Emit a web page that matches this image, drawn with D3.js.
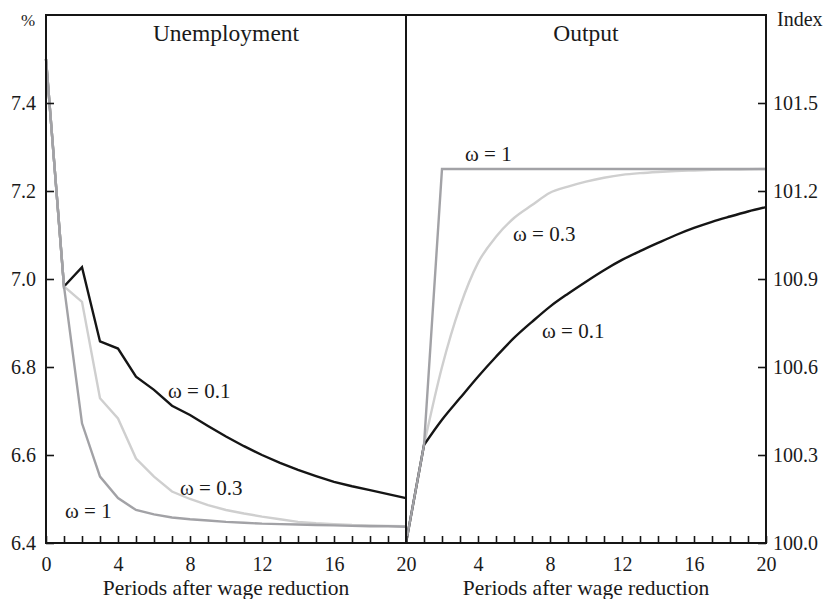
<!DOCTYPE html>
<html>
<head>
<meta charset="utf-8">
<script src="https://cdn.jsdelivr.net/npm/d3@7"></script>
<style>
  body { margin: 0; background: #fff; }
  svg text { font-family: "Liberation Serif", "Times New Roman", serif; fill: #1a1a1a; }
</style>
</head>
<body>
<div id="chart"></div>
<script>
// Periods after wage reduction
const periods = d3.range(0, 21);

// Unemployment, %
const unempW01 = [7.5, 6.983, 7.027, 6.858, 6.842, 6.778, 6.748, 6.712, 6.691, 6.666, 6.642, 6.620, 6.600, 6.582, 6.566, 6.552, 6.539, 6.529, 6.520, 6.511, 6.502];
const unempW03 = [7.5, 6.983, 6.948, 6.729, 6.683, 6.592, 6.551, 6.517, 6.500, 6.486, 6.475, 6.467, 6.460, 6.454, 6.448, 6.445, 6.443, 6.441, 6.440, 6.439, 6.438];
const unempW1  = [7.5, 6.983, 6.672, 6.551, 6.502, 6.475, 6.465, 6.458, 6.454, 6.451, 6.448, 6.446, 6.444, 6.443, 6.442, 6.441, 6.440, 6.439, 6.438, 6.438, 6.437];

// Output, index
const outW01 = [100, 100.334, 100.420, 100.494, 100.567, 100.635, 100.699, 100.754, 100.806, 100.850, 100.891, 100.930, 100.965, 100.995, 101.023, 101.050, 101.074, 101.095, 101.113, 101.130, 101.145];
const outW03 = [100, 100.334, 100.600, 100.806, 100.955, 101.044, 101.108, 101.152, 101.194, 101.215, 101.232, 101.245, 101.255, 101.261, 101.265, 101.268, 101.270, 101.272, 101.273, 101.274, 101.275];
const outW1  = [100, 100.334, 101.275, 101.275, 101.275, 101.275, 101.275, 101.275, 101.275, 101.275, 101.275, 101.275, 101.275, 101.275, 101.275, 101.275, 101.275, 101.275, 101.275, 101.275, 101.275];

const unempTicks = [6.4, 6.6, 6.8, 7.0, 7.2, 7.4];
const outTicks = [100.0, 100.3, 100.6, 100.9, 101.2, 101.5];

const W = 825, H = 599;
const plotTop = 15, plotBottom = 543;
const leftX0 = 46, midX = 406, rightX1 = 766;
const fs = 20;

const svg = d3.select("#chart").append("svg")
  .attr("width", W).attr("height", H);

// scales
const xL = d3.scaleLinear().domain([0, 20]).range([leftX0, midX]);
const xR = d3.scaleLinear().domain([0, 20]).range([midX, rightX1]);
const yL = d3.scaleLinear().domain([6.4, 7.6]).range([plotBottom, plotTop]);
const yR = d3.scaleLinear().domain([100, 101.8]).range([plotBottom, plotTop]);

// series (smooth: points from period 1 on are drawn as a smooth curve)
const colBlack = "#151515", colLight = "#cfcfcf", colMid = "#a2a2a6";
const leftSeries = [
  { vals: unempW01, color: colBlack, smooth: false },
  { vals: unempW03, color: colLight, smooth: false },
  { vals: unempW1, color: colMid, smooth: false }
];
const rightSeries = [
  { vals: outW03, color: colLight, smooth: true },
  { vals: outW01, color: colBlack, smooth: true },
  { vals: outW1, color: colMid, smooth: false }
];

function drawSeries(series, x, y, cls) {
  const lin = d3.line().x(d => x(d[0])).y(d => y(d[1]));
  const mono = d3.line().x(d => x(d[0])).y(d => y(d[1])).curve(d3.curveMonotoneX);
  series.forEach(s => {
    const pts = s.vals.map((v, i) => [periods[i], v]);
    const d = s.smooth
      ? lin(pts.slice(0, 2)) + mono(pts.slice(1)).replace(/^M/, "L")
      : lin(pts);
    svg.append("path")
      .attr("class", cls)
      .attr("d", d)
      .attr("fill", "none").attr("stroke", s.color)
      .attr("stroke-width", 2.4).attr("stroke-linejoin", "miter");
  });
}
drawSeries(leftSeries, xL, yL, "lineL");
drawSeries(rightSeries, xR, yR, "lineR");

// axes
function styleAxis(g) {
  g.select(".domain").remove();
  g.selectAll(".tick line").attr("stroke", "#151515").attr("stroke-width", 1.6);
  g.selectAll(".tick text").style("font-family", "Liberation Serif, serif")
    .style("font-size", fs + "px").attr("fill", "#1a1a1a");
}

svg.append("g").attr("transform", `translate(0,${plotBottom})`)
  .call(d3.axisBottom(xL).tickValues(periods).tickSizeInner(-7).tickSizeOuter(0).tickPadding(14)
    .tickFormat(d => d % 4 === 0 ? d : ""))
  .call(styleAxis);

svg.append("g").attr("transform", `translate(0,${plotBottom})`)
  .call(d3.axisBottom(xR).tickValues(periods).tickSizeInner(-7).tickSizeOuter(0).tickPadding(14)
    .tickFormat(d => d % 4 === 0 && d > 0 ? d : ""))
  .call(styleAxis);

svg.append("g").attr("transform", `translate(${leftX0},0)`)
  .call(d3.axisLeft(yL).tickValues(unempTicks).tickSizeInner(-8).tickSizeOuter(0).tickPadding(10)
    .tickFormat(d3.format(".1f")))
  .call(styleAxis);

svg.append("g").attr("transform", `translate(${rightX1},0)`)
  .call(d3.axisRight(yR).tickValues(outTicks).tickSizeInner(-8).tickSizeOuter(0).tickPadding(7)
    .tickFormat(d3.format(".1f")))
  .call(styleAxis);

// frame
svg.append("rect")
  .attr("x", leftX0).attr("y", plotTop)
  .attr("width", rightX1 - leftX0).attr("height", plotBottom - plotTop)
  .attr("fill", "none").attr("stroke", "#151515").attr("stroke-width", 2);
svg.append("line")
  .attr("x1", midX).attr("x2", midX).attr("y1", plotTop).attr("y2", plotBottom)
  .attr("stroke", "#151515").attr("stroke-width", 2);

// titles and units
svg.append("text").attr("x", (leftX0 + midX) / 2).attr("y", 41)
  .attr("text-anchor", "middle").style("font-size", "23.5px").text("Unemployment");
svg.append("text").attr("x", (midX + rightX1) / 2).attr("y", 41)
  .attr("text-anchor", "middle").style("font-size", "23.5px").text("Output");
svg.append("text").attr("x", 28).attr("y", 26)
  .attr("text-anchor", "middle").style("font-size", "17px").text("%");
svg.append("text").attr("x", 777).attr("y", 26)
  .style("font-size", fs + "px").text("Index");

svg.append("text").attr("x", (leftX0 + midX) / 2).attr("y", 595)
  .attr("text-anchor", "middle").style("font-size", "21.5px").text("Periods after wage reduction");
svg.append("text").attr("x", (midX + rightX1) / 2).attr("y", 595)
  .attr("text-anchor", "middle").style("font-size", "21.5px").text("Periods after wage reduction");

// series labels
const labels = [
  { t: "ω = 0.1", x: 168, y: 398 },
  { t: "ω = 0.3", x: 180, y: 495 },
  { t: "ω = 1", x: 65, y: 518 },
  { t: "ω = 1", x: 465, y: 161 },
  { t: "ω = 0.3", x: 513, y: 241 },
  { t: "ω = 0.1", x: 542, y: 338 }
];
svg.selectAll(".lab").data(labels).enter().append("text")
  .attr("class", "lab")
  .attr("x", d => d.x).attr("y", d => d.y)
  .style("font-size", "21px").text(d => d.t);
</script>
</body>
</html>
